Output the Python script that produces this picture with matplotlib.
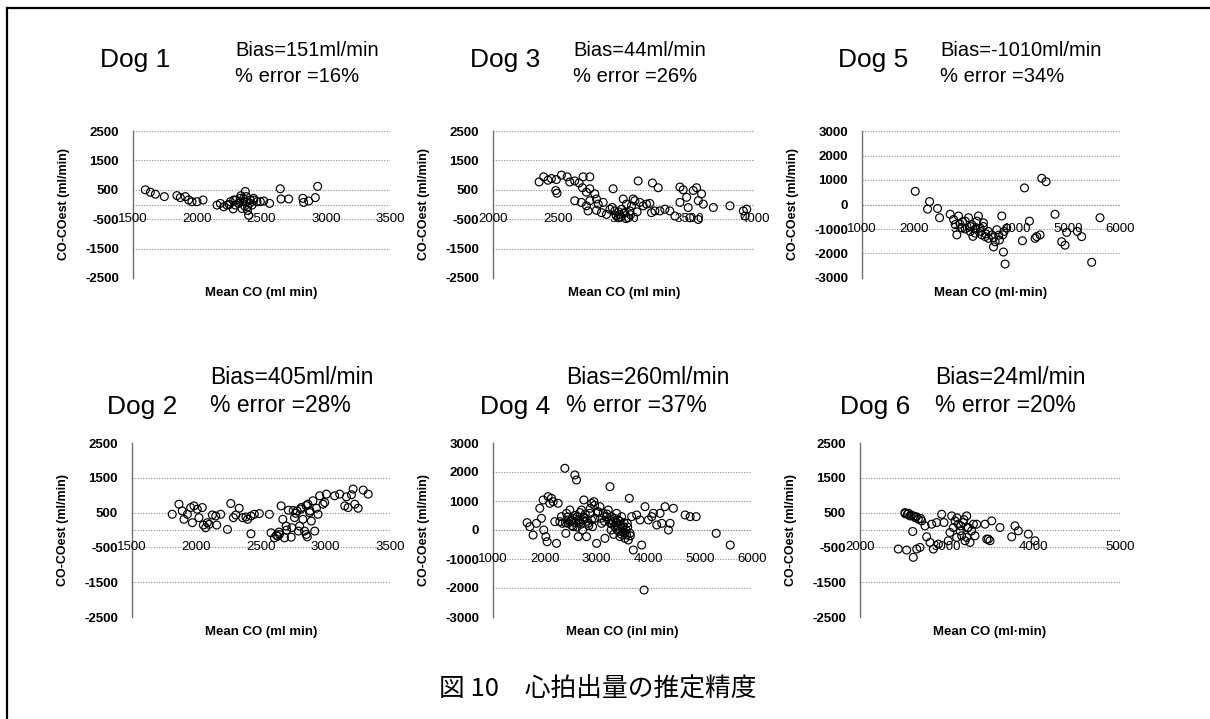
import matplotlib
matplotlib.use("Agg")
import matplotlib.pyplot as plt
from matplotlib.lines import Line2D

plt.rcParams['font.family'] = ['Liberation Sans', 'DejaVu Sans']

W, H = 1210, 719

# ---- panel labels ----
dog_names = ["Dog 1", "Dog 3", "Dog 5", "Dog 2", "Dog 4", "Dog 6"]
bias_text = ["Bias=151ml/min", "Bias=44ml/min", "Bias=-1010ml/min",
             "Bias=405ml/min", "Bias=260ml/min", "Bias=24ml/min"]
error_text = ["% error =16%", "% error =26%", "% error =34%",
              "% error =28%", "% error =37%", "% error =20%"]
x_labels = ["Mean CO (ml min)", "Mean CO (ml min)", "Mean CO (ml\u00b7min)",
            "Mean CO (ml min)", "Mean CO (inl min)", "Mean CO (ml\u00b7min)"]
y_label = "CO-COest (ml/min)"

# ---- axis ticks ----
x_ticks = [
    [1500, 2000, 2500, 3000, 3500],
    [2000, 2500, 3000, 3500, 4000],
    [1000, 2000, 3000, 4000, 5000, 6000],
    [1500, 2000, 2500, 3000, 3500],
    [1000, 2000, 3000, 4000, 5000, 6000],
    [2000, 3000, 4000, 5000],
]
y_ticks = [
    [2500, 1500, 500, -500, -1500, -2500],
    [2500, 1500, 500, -500, -1500, -2500],
    [3000, 2000, 1000, 0, -1000, -2000, -3000],
    [2500, 1500, 500, -500, -1500, -2500],
    [3000, 2000, 1000, 0, -1000, -2000, -3000],
    [2500, 1500, 500, -500, -1500, -2500],
]

# ---- data: mean CO (ml/min) vs CO - COest (ml/min) ----
dog1_mean = [1596, 1635, 1674, 1744, 1842, 1868, 1907, 1933, 1959, 1998, 2045,
             2154, 2180, 2206, 2232, 2258, 2284, 2297, 2322, 2335, 2348, 2361,
             2374, 2382, 2387, 2392, 2400, 2413, 2426, 2439, 2465, 2491, 2517,
             2563, 2646, 2652, 2711, 2822, 2828, 2867, 2919, 2937,
             2250, 2300, 2340, 2370, 2410, 2280, 2360, 2440, 2390, 2330]
dog1_diff = [500, 419, 350, 269, 303, 234, 269, 153, 95, 95, 153,
             -20, 38, -78, -20, 95, 153, -20, 38, 211, -136, 95,
             442, 269, 95, -78, -367, 153, -20, 211, 95, 95, 119,
             38, 535, 188, 188, 211, 72, 119, 234, 616,
             0, 150, 300, -50, 50, -150, 200, 150, -200, 100]

dog3_mean = [2352, 2387, 2420, 2446, 2484, 2522, 2566, 2586, 2624, 2657, 2688,
             2739, 2479, 2489, 2683, 2713, 2739, 2777, 2790, 2624, 2675, 2713,
             2739, 2803, 2841, 2726, 2790, 2828, 2866, 2892, 2917, 2930, 2955,
             2968, 2981, 2994, 3006, 3019, 3032, 3045, 3057, 3070, 3083, 3108,
             3121, 3146, 3172, 3197, 3210, 3217, 3236, 3261, 3274, 3312, 3350,
             3389, 3427, 3427, 3452, 3478, 3490, 3503, 3529, 3554, 3567, 3567,
             3592, 3605, 3682, 3809, 3911, 3924, 3937,
             2940, 2975, 3000, 3015, 2960, 3050, 2910, 3100]
dog3_diff = [767, 941, 825, 883, 848, 999, 941, 767, 802, 732, 941,
             941, 477, 384, 570, 419, 535, 361, 187, 129, 71, -45,
             129, 13, 71, -219, -196, -277, -335, -161, 535, -219, -451,
             -335, -161, 187, -277, 13, -451, -219, -45, 187, 129, 802,
             71, -45, 13, 36, -277, 732, -219, 570, -219, -161, -219,
             -393, 71, 593, 500, 245, -103, -451, 477, 570, 129, -509,
             361, 13, -103, -45, -219, -393, -161,
             -380, -420, -300, -480, -250, -350, -100, -250]

dog5_mean = [2032, 2309, 2271, 2464, 2503, 2709, 2806, 2838, 2774, 2870, 2935,
             3000, 3064, 3096, 3129, 3193, 3225, 3257, 3290, 3322, 3354, 3386,
             3451, 3515, 3548, 3580, 3612, 3664, 3709, 3728, 3741, 3754, 3773,
             3806, 4109, 4148, 4245, 4354, 4386, 4451, 4483, 4567, 4741, 4870,
             4935, 4967, 5173, 5257, 5451, 5612,
             2900, 3000, 3100, 3200, 3300, 3400, 3450, 3550, 3650, 2950, 3150,
             3350]
dog5_diff = [538, 118, -190, -162, -540, -400, -820, -1240, -610, -470, -960,
             -680, -540, -1100, -820, -1170, -680, -470, -960, -1240, -750, -1310,
             -1380, -1240, -1730, -1520, -1030, -1450, -470, -1240, -1940, -1100, -2430,
             -960, -1480, 678, -680, -1380, -1310, -1240, 1070, 930, -400, -1520,
             -1660, -1140, -1100, -1310, -2360, -540,
             -800, -1000, -900, -1000, -1100, -1200, -1100, -1350, -1250, -700, -1300,
             -900]

dog2_mean = [1812, 1864, 1890, 1903, 1929, 1955, 1968, 1980, 2006, 2019, 2045,
             2053, 2071, 2084, 2097, 2123, 2149, 2157, 2188, 2240, 2266, 2286,
             2305, 2331, 2357, 2383, 2396, 2422, 2448, 2422, 2487, 2565, 2578,
             2604, 2630, 2643, 2656, 2669, 2682, 2695, 2713, 2734, 2739, 2760,
             2780, 2790, 2799, 2812, 2825, 2838, 2851, 2859, 2864, 2877, 2890,
             2903, 2916, 2929, 2942, 2955, 2981, 2994, 3007, 3071, 3110, 3149,
             3162, 3175, 3201, 3214, 3227, 3253, 3292, 3331,
             2620, 2640, 2700, 2750, 2770, 2810, 2850, 2880]
dog2_diff = [452, 742, 548, 307, 452, 645, 210, 693, 597, 355, 645,
             143, 65, 210, 162, 432, 403, 143, 452, 17, 761, 355,
             432, 625, 355, 374, 307, 403, 452, -109, 471, 452, -80,
             -225, -176, -128, 693, 307, -225, 114, 568, -205, 65, 355,
             548, -31, 114, 645, 307, -31, -128, -196, 742, 500, 258,
             838, -31, 625, 452, 983, 742, 790, 1031, 983, 1031, 693,
             954, 645, 1012, 1176, 742, 625, 1147, 1031,
             -150, -60, 0, 560, 480, 600, 700, 550]

dog4_mean = [1658, 1710, 1774, 1839, 1903, 1935, 1968, 1980, 2019, 2045, 2064,
             2097, 2129, 2161, 2193, 2226, 2258, 2290, 2322, 2341, 2387, 2406,
             2419, 2451, 2483, 2516, 2548, 2580, 2612, 2625, 2645, 2677, 2709,
             2728, 2754, 2774, 2806, 2838, 2870, 2903, 2922, 2948, 2967, 3000,
             3032, 3064, 3096, 3129, 3161, 3193, 3225, 3258, 3270, 3290, 3322,
             3354, 3387, 3400, 3419, 3451, 3464, 3483, 3503, 3515, 3548, 3567,
             3580, 3593, 3612, 3632, 3645, 3677, 3709, 3774, 3838, 3870, 3916,
             3935, 4000, 4064, 4096, 4161, 4225, 4258, 4322, 4387, 4419, 4483,
             4709, 4806, 4922, 5309, 5580,
             2450, 2500, 2550, 2600, 2650, 2700, 2750, 2800, 2850, 2900, 3250,
             3300, 3350, 3400, 3450, 3500, 3550, 3600, 3650, 2400, 2440, 2520,
             2580, 2620, 2680, 2740, 2780, 2880, 2960, 3020, 3080, 3150, 3200,
             3280, 3330, 3380, 3430, 3480, 3530]
dog4_diff = [253, 115, -173, 230, 748, 403, 1035, 0, -230, -403, 1150,
             920, 1093, 978, 288, -460, 920, 288, 460, 230, 2128, -115,
             575, 230, 690, 345, 115, 1898, 1725, 460, -230, 288, 690,
             0, 1035, 403, -230, 230, 575, 920, 115, 978, 403, -460,
             633, 805, 230, 575, -288, 460, 690, 1495, 230, 460, 288,
             115, 575, 0, 345, -230, 173, 460, -58, 115, -288, 0,
             -173, 230, -345, 1093, -115, 460, -690, 518, 345, -518, -2070,
             805, 345, 460, 575, 173, 575, 230, 805, 0, 230, 748,
             518, 460, 460, -115, -518,
             350, 300, 400, 250, 350, 200, 450, 300, 150, 350, 350,
             200, 400, 150, 300, 50, -100, 100, -200, 250, 450, 150,
             500, 100, 600, 350, 550, 750, 850, 600, 400, 300, 550,
             0, -150, 250, -50, -150, 250]

dog6_mean = [2442, 2519, 2538, 2546, 2577, 2608, 2615, 2635, 2654, 2673, 2692,
             2712, 2750, 2769, 2808, 2827, 2846, 2885, 2904, 2942, 2969, 3019,
             3038, 3058, 3077, 3096, 3115, 3135, 3154, 3173, 3192, 3212, 3231,
             3250, 3269, 3288, 3308, 3327, 3346, 3442, 3462, 3500, 3519, 3615,
             3750, 3788, 3827, 3942, 4019, 3481, 3231,
             2560, 2590, 2620, 2650, 2700, 2520, 3120, 3160, 3200, 3240]
dog6_diff = [-547, 500, -576, 452, 405, -43, -785, 357, -547, 310, -500,
             262, 119, -195, -357, 167, -547, 214, -405, 452, 214, -309,
             -71, 405, 71, 262, -214, 167, -24, -167, 214, -309, 405,
             71, -357, -24, 167, -167, 167, 167, -262, -309, 262, 71,
             -195, 119, -24, -119, -309, -262, -214,
             480, 430, 400, 380, 330, 470, 350, 120, 300, 60]

mean_values = [dog1_mean, dog3_mean, dog5_mean, dog2_mean, dog4_mean, dog6_mean]
diff_values = [dog1_diff, dog3_diff, dog5_diff, dog2_diff, dog4_diff, dog6_diff]

# ---- layout (pixel boxes: left, top, right, bottom) ----
boxes = [
    (133, 131, 390, 278), (493, 131, 755, 278), (862, 131, 1120, 278),
    (132, 443, 390, 617), (493, 443, 752, 617), (860, 443, 1120, 617),
]
# title anchor positions: (dog x, dog y, text x, bias y, error y)
title_pos = [
    (100, 60, 235, 50, 76), (470, 60, 573, 50, 76), (838, 60, 940, 50, 76),
    (107, 407, 210, 378, 405), (480, 407, 566, 378, 405), (840, 407, 935, 378, 405),
]

fig = plt.figure(figsize=(W / 100, H / 100), dpi=100)
fig.patch.set_facecolor('white')

grid_color = '#8c8c8c'

for i in range(6):
    l, t, r, b = boxes[i]
    ax = fig.add_axes([l / W, 1 - b / H, (r - l) / W, (b - t) / H])
    xt, yt = x_ticks[i], y_ticks[i]
    ax.set_xlim(xt[0], xt[-1])
    ax.set_ylim(min(yt), max(yt))
    for s in ('top', 'right', 'bottom'):
        ax.spines[s].set_visible(False)
    ax.spines['left'].set_color('#707070')
    ax.spines['left'].set_linewidth(1.0)

    top_row = i < 3
    for yv in yt:
        if yv == max(yt) and not top_row:
            continue
        ax.axhline(yv, color=grid_color, lw=0.8, ls=(0, (1, 1.4)), zorder=1)
    ax.axhline(0, color=grid_color, lw=0.8, ls=(0, (1, 1.4)), zorder=1)

    ax.set_yticks(yt)
    ax.set_yticklabels([str(v) for v in yt], fontsize=9.5, fontweight='bold')
    ax.tick_params(axis='y', length=0, pad=10)
    ax.set_xticks([])

    # x tick labels sit on the first grid level below zero
    level = max(v for v in yt if v < 0)
    for xv in xt:
        ax.text(xv, level, str(xv), ha='center', va='center', fontsize=9.5,
                zorder=3, clip_on=False)

    ax.scatter(mean_values[i], diff_values[i], s=32, facecolors='none',
               edgecolors='black', linewidths=0.85, zorder=4, clip_on=False)

    ax.annotate(x_labels[i], xy=(0.5, 0), xycoords='axes fraction',
                xytext=(0, -11), textcoords='offset points', ha='center',
                va='center', fontsize=9.5, fontweight='bold')
    ax.annotate(y_label, xy=(0, 0.5), xycoords='axes fraction',
                xytext=(-50, 0), textcoords='offset points', ha='center',
                va='center', rotation=90, fontsize=9, fontweight='bold')

    dx, dy, tx, by, ey = title_pos[i]
    tsize = 14.5 if top_row else 16.5
    fig.text(dx / W, 1 - dy / H, dog_names[i], fontsize=19, ha='left', va='center')
    fig.text(tx / W, 1 - by / H, bias_text[i], fontsize=tsize, ha='left', va='center')
    fig.text(tx / W, 1 - ey / H, error_text[i], fontsize=tsize, ha='left', va='center')

# caption
fig.text(598 / W, 1 - 690 / H, "図 10\u3000心拍出量の推定精度", fontsize=18.5,
         ha='center', va='center', family=['Noto Sans CJK JP', 'DejaVu Sans'])

# outer frame (left and top edges)
fig.add_artist(Line2D([7 / W, 7 / W], [0, 1 - 8 / H], color='black', lw=1.6,
                      transform=fig.transFigure))
fig.add_artist(Line2D([7 / W, 1], [1 - 8 / H, 1 - 8 / H], color='black', lw=1.6,
                      transform=fig.transFigure))

fig.savefig('out.png', dpi=100)
